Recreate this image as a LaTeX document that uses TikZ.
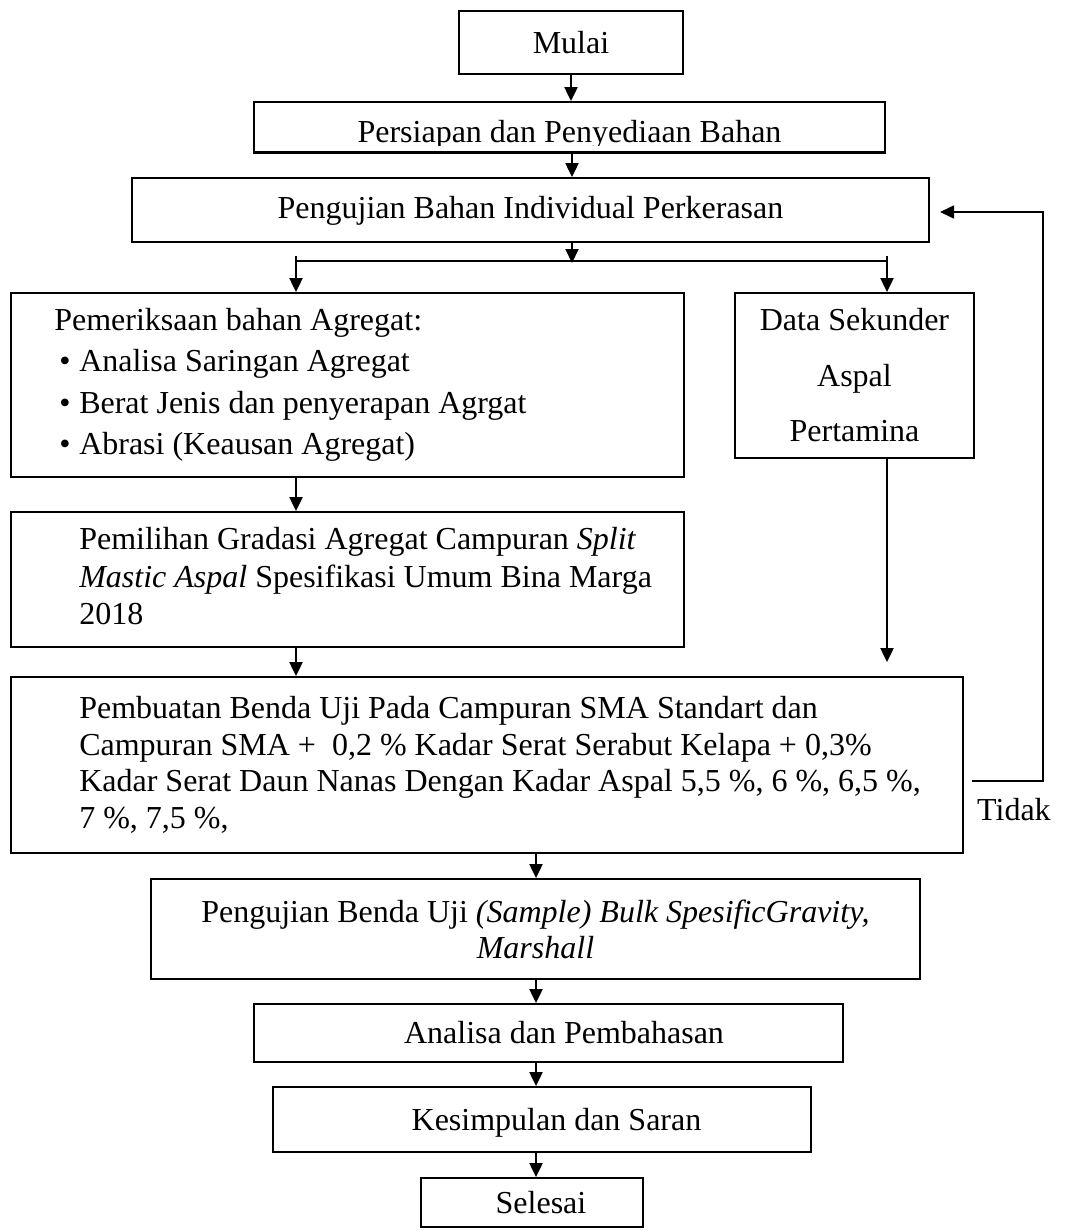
\documentclass[tikz,border=0pt]{standalone}
\usepackage{fontspec}
\setmainfont{Liberation Serif}
\usetikzlibrary{arrows.meta,calc}
\begin{document}
\begin{tikzpicture}[x=1pt,y=-1pt,
  font=\fontsize{32}{37}\selectfont,
  frame/.style={draw,line width=1.8pt,inner sep=0pt},
  single/.style={frame,text height=21pt,text depth=0pt},
  arr/.style={line width=2pt,-{Triangle[length=14pt,width=13pt]}},
  txt/.style={inner sep=0pt,align=left,anchor=west}]
\useasboundingbox (0,0) rectangle (1065,1232);

% boxes
\node[single,minimum width=224pt,minimum height=63pt] (mulai) at (571,42.5) {Mulai};
\node[single,minimum width=631pt,minimum height=50pt,text height=30pt] (prep) at (569.5,127) {Persiapan dan Penyediaan Bahan};
\fill[white] ([xshift=1.5pt,yshift=1.5pt]prep.south west) rectangle ([xshift=-1.5pt,yshift=7pt]prep.south east);
\draw[line width=1.8pt] (prep.south west) -- (prep.south east);
\node[single,minimum width=797pt,minimum height=64pt,text height=16pt] (pbi) at (530.5,210) {Pengujian Bahan Individual Perkerasan};

\node[frame,minimum width=673pt,minimum height=184pt] (periksa) at (347.5,385) {};
\node[txt,font=\fontsize{32}{41.5}\selectfont] (periksa-t) at ([xshift=44pt]periksa.west)
  {Pemeriksaan bahan Agregat:\\
   \hspace*{5pt}\makebox[20pt][l]{\textbullet}Analisa Saringan Agregat\\
   \hspace*{5pt}\makebox[20pt][l]{\textbullet}Berat Jenis dan penyerapan Agrgat\\
   \hspace*{5pt}\makebox[20pt][l]{\textbullet}Abrasi (Keausan Agregat)};

\node[frame,minimum width=239pt,minimum height=165pt,align=center,font=\fontsize{32}{55.5}\selectfont] (data) at (854.5,375.5)
  {Data Sekunder\\Aspal\\Pertamina};

\node[frame,minimum width=673pt,minimum height=135pt] (pilih) at (347.5,579.5) {};
\node[txt,font=\fontsize{32}{37.5}\selectfont,yshift=3pt] (pilih-t) at ([xshift=69pt]pilih.west)
  {Pemilihan Gradasi Agregat Campuran \textit{Split}\\
   \textit{Mastic Aspal} Spesifikasi Umum Bina Marga\\
   2018};

\node[frame,minimum width=952pt,minimum height=176pt] (buat) at (487,765) {};
\node[txt,font=\fontsize{32}{36.5}\selectfont] (buat-t) at ([xshift=69pt]buat.west)
  {Pembuatan Benda Uji Pada Campuran SMA Standart dan\\
   Campuran SMA +\ \ 0,2 \% Kadar Serat Serabut Kelapa + 0,3\%\\
   Kadar Serat Daun Nanas Dengan Kadar Aspal 5,5 \%, 6 \%, 6,5 \%,\\
   7 \%, 7,5 \%,};

\node[frame,minimum width=769pt,minimum height=100pt,align=center,font=\fontsize{32}{36}\selectfont] (benda) at (535.5,929)
  {Pengujian Benda Uji \textit{(Sample) Bulk SpesificGravity,}\\\textit{Marshall}};

\node[single,minimum width=589pt,minimum height=58pt] (analisa) at (548.5,1033) {\hspace*{31pt}Analisa dan Pembahasan};
\node[single,minimum width=538pt,minimum height=65pt] (simpul) at (542,1119.5) {\hspace*{29pt}Kesimpulan dan Saran};
\node[single,minimum width=222pt,minimum height=49pt] (selesai) at (532,1202.5) {\hspace*{18pt}Selesai};

% helper coordinates
\coordinate (ax) at (572,0);
\coordinate (bx) at (536,0);
\coordinate (bm) at (572,263);
\coordinate (bl) at (296,256);
\coordinate (br) at (887,256);
\coordinate (hl) at (296,261);
\coordinate (hr) at (887,261);
\coordinate (t0) at (972,781);
\coordinate (t1) at (1043,781);
\coordinate (t2) at (940,212);

% connectors
\draw[arr] (mulai.south) -- (mulai.south |- prep.north);
\draw[arr] (ax |- prep.south) -- (ax |- pbi.north);
\draw[arr] (ax |- pbi.south) -- (bm);
\draw[line width=1.2pt] (hl) -- (hr);
\draw[arr] (bl) -- (bl |- periksa.north);
\draw[arr] (br) -- (br |- data.north);
\draw[arr] (bl |- periksa.south) -- (bl |- pilih.north);
\draw[arr] (bl |- pilih.south) -- (bl |- buat.north);
\draw[arr,shorten >=14pt] (br |- data.south) -- (br |- buat.north);
\draw[arr] (bx |- buat.south) -- (bx |- benda.north);
\draw[arr] (bx |- benda.south) -- (bx |- analisa.north);
\draw[arr] (bx |- analisa.south) -- (bx |- simpul.north);
\draw[arr] (bx |- simpul.south) -- (bx |- selesai.north);
\draw[line width=1.6pt,-{Triangle[length=14pt,width=13pt]}] (t0) -- (t1) |- (t2);
\node[anchor=base west,inner sep=0pt] (tidak) at (977,820) {Tidak};
\end{tikzpicture}
\end{document}
